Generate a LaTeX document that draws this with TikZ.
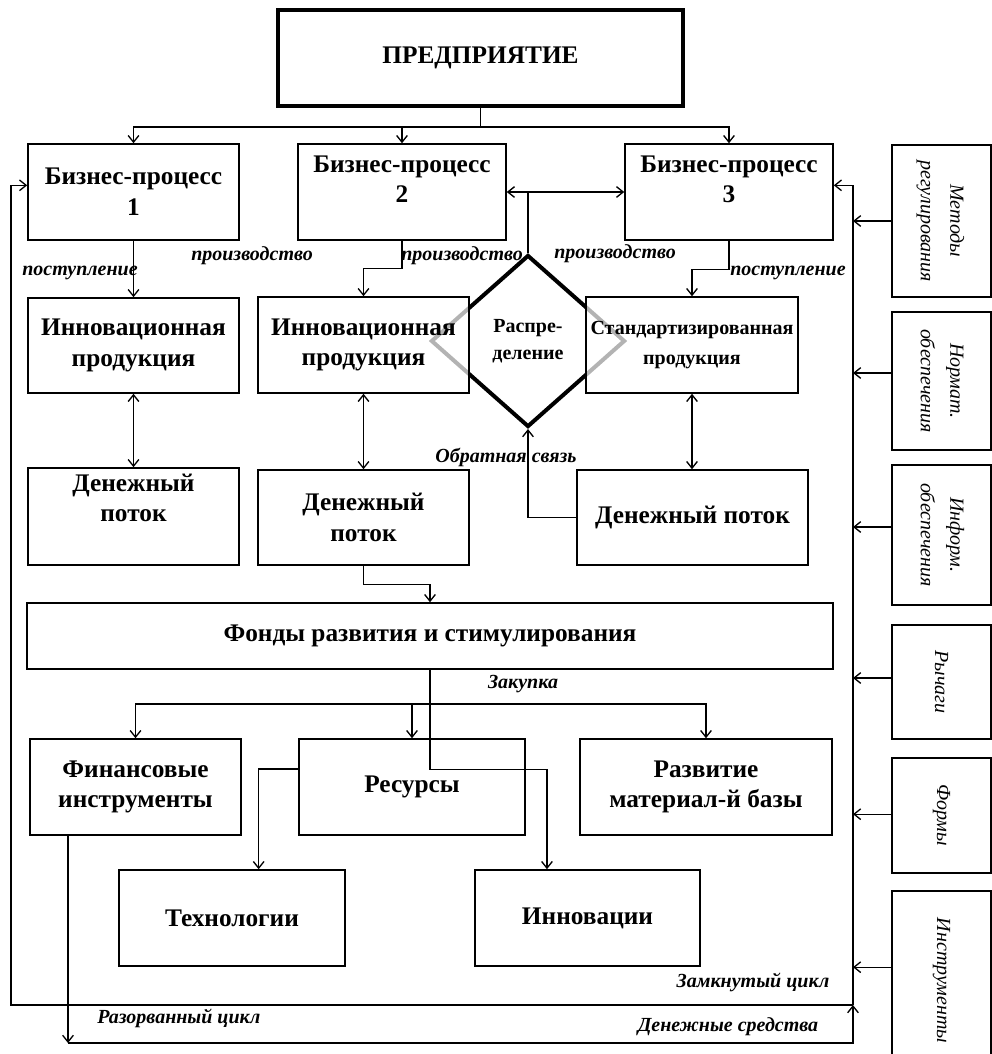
\documentclass[tikz,border=0pt]{standalone}
\usepackage{fontspec}
\setmainfont{Liberation Serif}
\usetikzlibrary{shapes.geometric, arrows.meta}

\newlength{\pxl}
\setlength{\pxl}{0.75pt}
\newcommand{\boxfont}{\bfseries\fontsize{19}{23}\selectfont}
\newcommand{\stdfont}{\bfseries\fontsize{15}{23}\selectfont}
\newcommand{\diafont}{\bfseries\fontsize{15}{20}\selectfont}
\newcommand{\lblfont}{\bfseries\itshape\fontsize{15}{18}\selectfont}
\newcommand{\sidefont}{\itshape\fontsize{15}{22}\selectfont}

\begin{document}
\begin{tikzpicture}[x=0.75pt, y=-0.75pt, line width=1pt,
    >={Straight Barb[length=5pt, width=8pt]},
    box/.style 2 args={draw, line width=1.2pt, fill=white, align=center, font=\boxfont,
        minimum width=#1\pxl, minimum height=#2\pxl, inner sep=2pt},
    glass/.style={fill opacity=0.7, text opacity=1},
    raised/.style={text depth=19pt},
    dia/.style={diamond, draw, line width=3pt, minimum width=194\pxl, minimum height=172\pxl,
        align=center, inner sep=0pt, font=\diafont},
    side/.style 2 args={draw, line width=1.2pt, font=\sidefont,
        minimum width=#1\pxl, minimum height=#2\pxl, inner sep=0pt},
    lbl/.style={font=\lblfont, inner sep=0pt}]

    \useasboundingbox (0,0) rectangle (992,1054);
    \clip (0,0) rectangle (992,1054);

    % Draw the enterprise
    \node[box={405}{96}, line width=3pt] (ent) at (480.5,58) {ПРЕДПРИЯТИЕ};

    % Draw the business processes
    \node[box={211}{96}] (bp1) at (133.5,192) {Бизнес-процесс\\1};
    \node[box={208}{96}, raised] (bp2) at (402,192) {Бизнес-процесс\\2};
    \node[box={208}{96}, raised] (bp3) at (729,192) {Бизнес-процесс\\3};

    % Draw the distribution diamond (under the product boxes)
    \node[dia] (dia) at (528,341) {Распре-\\деление};

    % Draw the products
    \node[box={211}{95}] (inn1) at (133.5,345.5) {Инновационная\\продукция};
    \node[box={211}{96}, glass] (inn2) at (363.5,345) {Инновационная\\продукция};
    \node[box={212}{96}, glass, font=\stdfont] (std) at (692,345) {Стандартизированная\\продукция};

    % Draw the cash flows
    \node[box={211}{97}, text depth=28pt] (dp1) at (133.5,516.5) {Денежный\\поток};
    \node[box={211}{95}] (dp2) at (363.5,517.5) {Денежный\\поток};
    \node[box={231}{95}] (dp3) at (692.5,517.5) {Денежный поток};

    % Draw the funds
    \node[box={806}{66}] (fund) at (430,636) {Фонды развития и стимулирования};

    % Draw the directions of spending
    \node[box={211}{96}] (fin) at (135.5,787) {Финансовые\\инструменты};
    \node[box={226}{96}] (res) at (412,787) {Ресурсы};
    \node[box={252}{96}] (mat) at (706,787) {Развитие\\материал-й базы};
    \node[box={226}{96}] (tech) at (232,918) {Технологии};
    \node[box={225}{96}] (innov) at (587.5,918) {Инновации};

    % Draw the side boxes
    \node[side={99}{152}] (m1) at (941.5,221) {\rotatebox{-90}{\begin{tabular}{c}Методы\\регулирования\end{tabular}}};
    \node[side={99}{138}] (m2) at (941.5,381) {\rotatebox{-90}{\begin{tabular}{c}Нормат.\\обеспечения\end{tabular}}};
    \node[side={99}{140}] (m3) at (941.5,535) {\rotatebox{-90}{\begin{tabular}{c}Информ.\\обеспечения\end{tabular}}};
    \node[side={99}{114}] (m4) at (941.5,682) {\rotatebox{-90}{Рычаги}};
    \node[side={99}{115}] (m5) at (941.5,815.5) {\rotatebox{-90}{Формы}};
    \node[side={99}{179}] (m6) at (941.5,980.5) {\rotatebox{-90}{Инструменты}};

    % Draw the labels
    \node[lbl] (l1) at (252,256) {производство};
    \node[lbl] (l2) at (80,273) {поступление};
    \node[lbl] (l3) at (462,256) {производство};
    \node[lbl] (l4) at (615,254) {производство};
    \node[lbl] (l5) at (788,273) {поступление};
    \node[lbl] (l6) at (506,457) {Обратная связь};
    \node[lbl] (l7) at (523,684) {Закупка};
    \node[lbl] (l8) at (753,982) {Замкнутый цикл};
    \node[lbl] (l9) at (179,1018) {Разорванный цикл};
    \node[lbl] (l10) at (728,1027) {Денежные средства};

    % Draw links from the enterprise
    \draw (ent.south) -- ++(0,19) coordinate (tj);
    \draw[->] (tj) -| (bp1.north);
    \draw[->] (tj) -| (bp2.north);
    \draw[->] (tj) -| (bp3.north);

    % Draw links to the products
    \draw[->] (bp1) -- (inn1);
    \draw[->] (bp2.south) -- ++(0,28) -| (inn2.north);
    \draw[->] (bp3.south) -- ++(0,29) -| (std.north);
    \draw[<->] (bp2.east) -- (bp3.west);
    \draw (dia.north) -- (dia.north |- bp2.east);

    % Draw links between products and cash flows
    \draw[<->] (inn1) -- (dp1);
    \draw[<->] (inn2) -- (dp2);
    \draw[<->] (std.south) -- (std.south |- dp3.north);
    \draw[->] (dp3.west) -| (dia.south); % feedback

    % Draw links to the funds and from them
    \draw[->] (dp2.south) -- ++(0,19) -| (fund.north);
    \draw (fund.south) -- ++(0,100) coordinate (fj);
    \draw[->] (fj) -| ([xshift=-30.4pt]innov.north);
    \coordinate (bus) at (430,704);
    \draw[->] (bus) -| (fin.north);
    \draw[->] (bus) -| (res.north);
    \draw[->] (bus) -| (mat.north);
    \draw[->] ([yshift=13.5pt]res.west) -| ([xshift=20pt]tech.north);

    % Draw the closed and the open cycle
    \coordinate (lbot) at (11,1005);
    \coordinate (rbot) at (853,1005);
    \coordinate (fbot) at (68,1043);
    \coordinate (mbot) at (853,1043);
    \draw[->] (rbot) -- (lbot) |- ([yshift=5pt]bp1.west);
    \draw[->] (rbot) |- ([yshift=5pt]bp3.east);
    \draw[->] (fin.south -| fbot) -- (fbot);
    \draw[->] (fbot) -- (mbot) -- (rbot);

    % Draw links from the side boxes
    \foreach \m/\s in {m1/0, m2/6, m3/6, m4/3, m5/1, m6/10}
        \draw[->] ([yshift=\s pt]\m.west) -- ([yshift=\s pt]\m.west -| rbot);
\end{tikzpicture}
\end{document}
